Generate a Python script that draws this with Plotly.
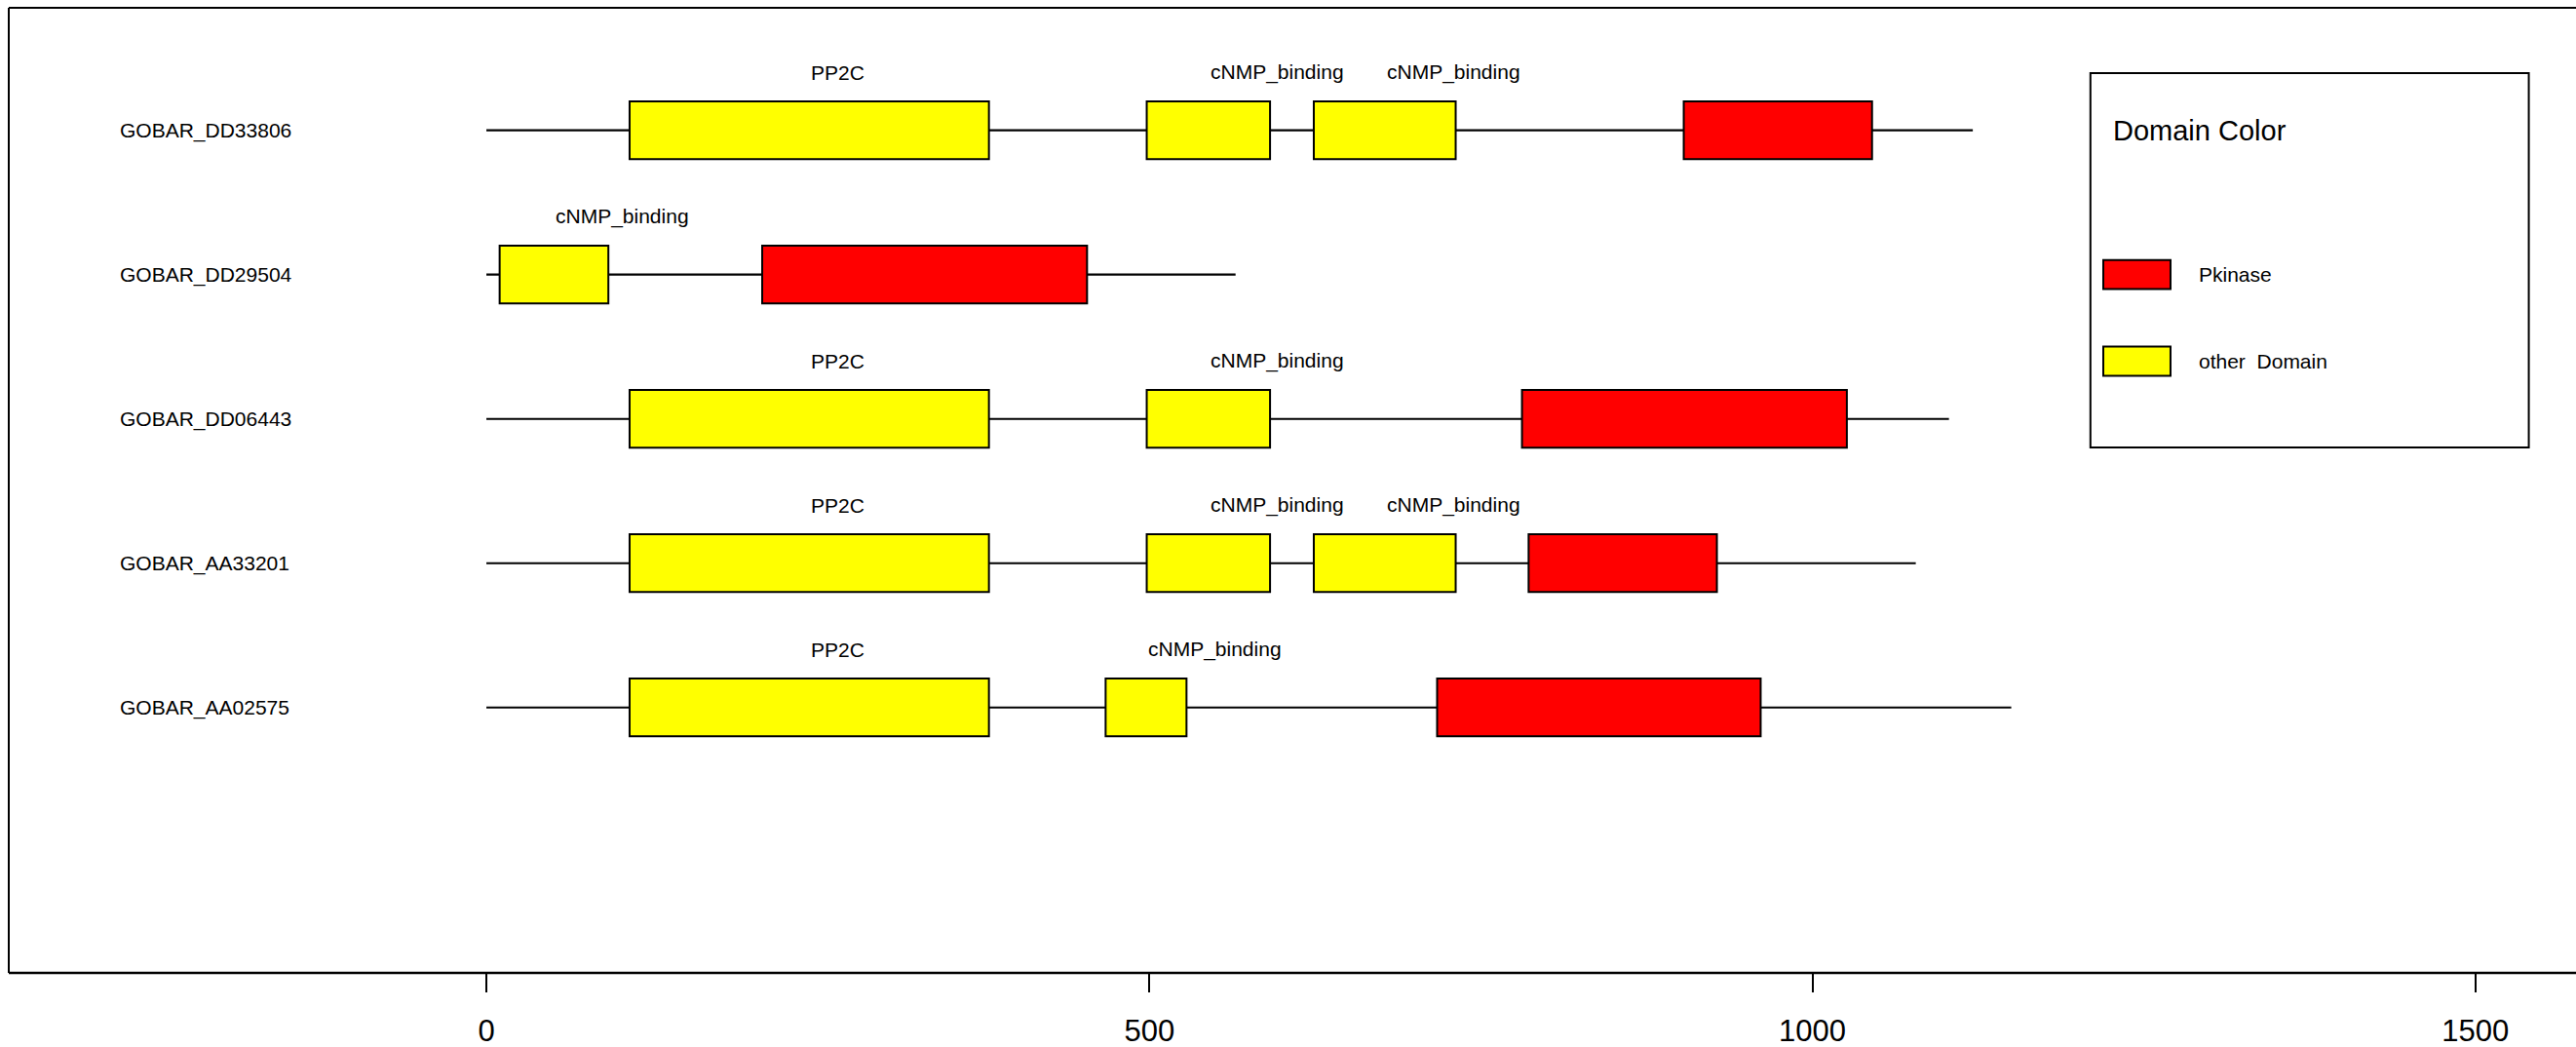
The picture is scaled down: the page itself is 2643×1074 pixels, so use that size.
import plotly.graph_objects as go

# ---------------- data ----------------
proteins = ["GOBAR_DD33806", "GOBAR_DD29504", "GOBAR_DD06443", "GOBAR_AA33201", "GOBAR_AA02575"]
protein_lengths = [1121, 565, 1103, 1078, 1150]

dom_protein = ["GOBAR_DD33806", "GOBAR_DD33806", "GOBAR_DD33806", "GOBAR_DD33806",
               "GOBAR_DD29504", "GOBAR_DD29504",
               "GOBAR_DD06443", "GOBAR_DD06443", "GOBAR_DD06443",
               "GOBAR_AA33201", "GOBAR_AA33201", "GOBAR_AA33201", "GOBAR_AA33201",
               "GOBAR_AA02575", "GOBAR_AA02575", "GOBAR_AA02575"]
dom_name = ["PP2C", "cNMP_binding", "cNMP_binding", "Pkinase",
            "cNMP_binding", "Pkinase",
            "PP2C", "cNMP_binding", "Pkinase",
            "PP2C", "cNMP_binding", "cNMP_binding", "Pkinase",
            "PP2C", "cNMP_binding", "Pkinase"]
dom_start = [108, 498, 624, 903,
             10, 208,
             108, 498, 781,
             108, 498, 624, 786,
             108, 467, 717]
dom_end = [379, 591, 731, 1045,
           92, 453,
           379, 591, 1026,
           379, 591, 731, 928,
           379, 528, 961]

legend_labels = ["Pkinase", "other\u00a0 Domain"]
legend_title = "Domain Color"
x_ticks = [0, 500, 1000, 1500]

# ---------------- styling ----------------
RED = "#FF0000"
YELLOW = "#FFFF00"
FONT = "Liberation Sans, Arial, sans-serif"

row_y = {p: len(proteins) - i for i, p in enumerate(proteins)}
BOX_H = 0.4

fig = go.Figure()

# backbone lines (thin black bars)
fig.add_trace(go.Bar(
    orientation="h",
    y=[row_y[p] for p in proteins],
    x=protein_lengths,
    base=[0] * len(proteins),
    width=0.014,
    marker=dict(color="black", line=dict(width=0)),
    hoverinfo="skip", showlegend=False,
))

# domains
colors = [RED if n == "Pkinase" else YELLOW for n in dom_name]
fig.add_trace(go.Bar(
    orientation="h",
    y=[row_y[p] for p in dom_protein],
    x=[e - s for s, e in zip(dom_start, dom_end)],
    base=dom_start,
    width=BOX_H,
    marker=dict(color=colors, line=dict(color="black", width=2)),
    hoverinfo="skip", showlegend=False,
))

annotations = []
# protein names
for p in proteins:
    annotations.append(dict(x=-278, y=row_y[p], xref="x", yref="y", text=p,
                            showarrow=False, xanchor="left", yanchor="middle",
                            font=dict(family=FONT, size=21, color="black")))
# domain labels (non-kinase domains)
for p, n, s, e in zip(dom_protein, dom_name, dom_start, dom_end):
    if n == "Pkinase":
        continue
    annotations.append(dict(x=(s + e) / 2, y=row_y[p] + 0.4, xref="x", yref="y", text=n,
                            showarrow=False, xanchor="left", yanchor="middle",
                            font=dict(family=FONT, size=21, color="black")))

shapes = []
# frame (top, left, bottom)
shapes.append(dict(type="line", xref="paper", yref="paper", x0=0, x1=1, y0=1, y1=1,
                   line=dict(color="black", width=2)))
shapes.append(dict(type="line", xref="paper", yref="paper", x0=0, x1=0, y0=0, y1=1,
                   line=dict(color="black", width=2)))
shapes.append(dict(type="line", xref="paper", yref="paper", x0=0, x1=1, y0=0, y1=0,
                   line=dict(color="black", width=2.5)))

# legend box
shapes.append(dict(type="rect", xref="x", yref="y", x0=1209.7, x1=1540.3, y0=2.802, y1=5.397,
                   line=dict(color="black", width=2), fillcolor="rgba(0,0,0,0)"))
annotations.append(dict(x=1225.3, y=5.0, xref="x", yref="y", text=legend_title,
                        showarrow=False, xanchor="left", yanchor="middle",
                        font=dict(family=FONT, size=29, color="black")))
for lab, col, yy in zip(legend_labels, [RED, YELLOW], [4.0, 3.4]):
    shapes.append(dict(type="rect", xref="x", yref="y", x0=1219.4, x1=1270.1,
                       y0=yy - 0.101, y1=yy + 0.101,
                       line=dict(color="black", width=2), fillcolor=col))
    annotations.append(dict(x=1290, y=yy, xref="x", yref="y", text=lab,
                            showarrow=False, xanchor="left", yanchor="middle",
                            font=dict(family=FONT, size=21, color="black")))

fig.update_layout(
    width=2643, height=1074,
    margin=dict(l=9, r=0, t=8, b=76, autoexpand=False),
    paper_bgcolor="white", plot_bgcolor="white",
    barmode="overlay",
    showlegend=False,
    shapes=shapes,
    annotations=annotations,
    xaxis=dict(range=[-360.2, 1575.9], tickvals=x_ticks, ticktext=[str(t) for t in x_ticks],
               ticks="outside", ticklen=19, tickwidth=1.5, tickcolor="black",
               showgrid=False, zeroline=False, showline=False, automargin=False,
               ticklabelstandoff=13,
               tickfont=dict(family=FONT, size=31, color="black")),
    yaxis=dict(range=[-0.840, 5.849], showticklabels=False, ticks="",
               showgrid=False, zeroline=False, showline=False, automargin=False),
)

fig.write_html("out.html", config={"displayModeBar": False},
               post_script="document.body.style.margin='0';document.body.style.overflow='hidden';")
